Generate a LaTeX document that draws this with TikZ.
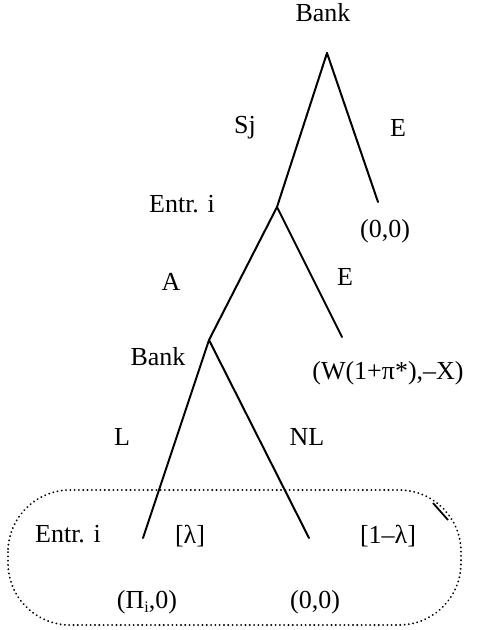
\documentclass[tikz,border=0pt]{standalone}
\usepackage{fontspec}
\setmainfont{Liberation Serif}
\begin{document}
\begin{tikzpicture}[x=1pt,y=-1pt,
  lbl/.style={inner sep=0pt,anchor=center,font=\fontsize{26}{30}\selectfont},
  branch/.style={line width=2pt,line cap=round},
  infoset/.style={line width=2pt,line cap=round,dash pattern=on 0.1pt off 4.2pt}]
\useasboundingbox (0,0) rectangle (492,630);
% nodes of the tree
\coordinate (root) at (327,53);
\coordinate (e1) at (378,202);
\coordinate (ent) at (277,207);
\coordinate (e2) at (342,337);
\coordinate (bank2) at (209,340);
\coordinate (lend) at (143,538);
\coordinate (nlend) at (309,538);
% branches
\draw[branch] (root) -- (ent);
\draw[branch] (root) -- (e1);
\draw[branch] (ent) -- (bank2);
\draw[branch] (ent) -- (e2);
\draw[branch] (bank2) -- (lend);
\draw[branch] (bank2) -- (nlend);
% information set
\draw[infoset,rounded corners=62] (8,490) rectangle (461,625);
\coordinate (s1) at (433,503);
\coordinate (s2) at (448,520);
\draw[line width=1.8pt] (s1) -- (s2);
% labels
\node[lbl] (tBank1) at (323,13) {Bank};
\node[lbl] (tSj) at (245,128) {Sj};
\node[lbl] (tE1) at (398,128) {E};
\node[lbl] (tP1) at (385,231) {(0,0)};
\node[lbl] (tEnt) at (182,204) {Entr. i};
\node[lbl] (tA) at (171,282) {A};
\node[lbl] (tE2) at (345,277) {E};
\node[lbl] (tBank2) at (158,357) {Bank};
\node[lbl] (tP2) at (388,373) {(W(1+π*),–X)};
\node[lbl] (tL) at (122,437) {L};
\node[lbl] (tNL) at (307,437) {NL};
\node[lbl] (tEnt2) at (68,534) {Entr. i};
\node[lbl] (tlam) at (190,536) {[λ]};
\node[lbl] (tlam2) at (388,536) {[1–λ]};
\node[lbl] (tP3) at (147,602) {(Π\raisebox{-0.35ex}{\fontsize{16}{18}\selectfont i},0)};
\node[lbl] (tP4) at (315,602) {(0,0)};
\end{tikzpicture}
\end{document}
